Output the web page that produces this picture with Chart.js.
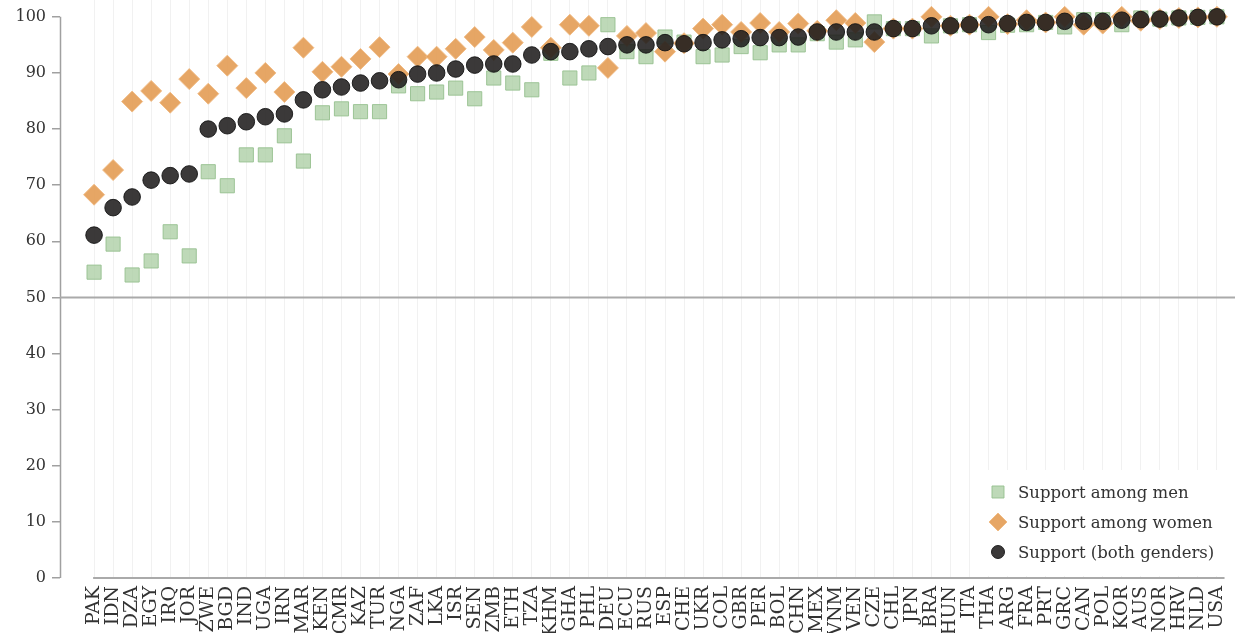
<!DOCTYPE html>
<html>
<head>
<meta charset="utf-8">
<script src="https://cdn.jsdelivr.net/npm/chart.js@4/dist/chart.umd.min.js"></script>
<style>
  html, body { margin: 0; padding: 0; background: #fff; overflow: hidden; }
  #wrap { width: 1235px; height: 633px; position: relative; }
</style>
</head>
<body>
<div id="wrap"><canvas id="chart"></canvas></div>
<script>
// Country codes, ordered by overall support
const countries = ['PAK','IDN','DZA','EGY','IRQ','JOR','ZWE','BGD','IND','UGA',
  'IRN','MAR','KEN','CMR','KAZ','TUR','NGA','ZAF','LKA','ISR',
  'SEN','ZMB','ETH','TZA','KHM','GHA','PHL','DEU','ECU','RUS',
  'ESP','CHE','UKR','COL','GBR','PER','BOL','CHN','MEX','VNM',
  'VEN','CZE','CHL','JPN','BRA','HUN','ITA','THA','ARG','FRA',
  'PRT','GRC','CAN','POL','KOR','AUS','NOR','HRV','NLD','USA'];

// Support (%) among men
const supportMen = [54.5, 59.5, 54.0, 56.5, 61.7, 57.4, 72.4, 69.9, 75.4, 75.4,
  78.8, 74.3, 82.9, 83.6, 83.1, 83.1, 87.7, 86.3, 86.6, 87.3,
  85.4, 89.1, 88.2, 87.0, 93.5, 89.1, 90.0, 98.6, 93.8, 92.9,
  96.4, 95.5, 92.9, 93.2, 94.7, 93.6, 95.0, 95.0, 97.0, 95.5,
  95.9, 99.1, 97.9, 97.9, 96.6, 98.4, 98.6, 97.2, 98.5, 98.6,
  99.0, 98.2, 99.5, 99.5, 98.6, 99.8, 99.6, 99.8, 99.9, 100];

// Support (%) among women
const supportWomen = [68.3, 72.7, 84.9, 86.8, 84.7, 88.9, 86.3, 91.3, 87.3, 90.0,
  86.6, 94.5, 90.2, 91.1, 92.5, 94.6, 89.8, 92.9, 92.9, 94.3,
  96.4, 94.1, 95.4, 98.2, 94.5, 98.6, 98.4, 90.9, 96.6, 97.1,
  93.8, 95.3, 97.9, 98.6, 97.3, 98.9, 97.3, 98.8, 97.5, 99.4,
  98.9, 95.5, 97.9, 97.9, 100, 98.4, 98.6, 100, 98.7, 99.4,
  99.0, 100, 98.6, 98.8, 100, 99.3, 99.6, 99.8, 99.9, 100];

// Support (%) for both genders
const supportBoth = [61.1, 66.0, 67.9, 70.9, 71.7, 72.0, 80.0, 80.6, 81.3, 82.2,
  82.7, 85.2, 87.0, 87.5, 88.2, 88.6, 88.8, 89.8, 90.0, 90.7,
  91.4, 91.6, 91.6, 93.2, 93.8, 93.8, 94.3, 94.7, 95.0, 95.0,
  95.4, 95.2, 95.4, 95.9, 96.1, 96.3, 96.3, 96.4, 97.3, 97.3,
  97.3, 97.3, 97.9, 97.9, 98.4, 98.4, 98.6, 98.6, 98.8, 99.0,
  99.0, 99.2, 99.2, 99.2, 99.4, 99.5, 99.6, 99.8, 99.9, 100];

const yTicks = [0, 10, 20, 30, 40, 50, 60, 70, 80, 90, 100];

const toPoints = arr => arr.map((v, i) => ({ x: i, y: v }));

const SERIF = '"DejaVu Serif", "Liberation Serif", serif';
const TEXT = '#333';

const styles = {
  men:   { pointStyle: 'rect',    radius: 10, bg: 'rgba(172,206,164,0.78)', border: 'rgba(150,192,142,0.9)' },
  women: { pointStyle: 'rectRot', radius: 10.5, bg: 'rgba(228,158,88,0.92)', border: 'rgba(240,185,130,0.9)' },
  both:  { pointStyle: 'circle',  radius: 8.3, bg: 'rgba(32,30,30,0.88)', border: 'rgba(20,20,20,0.9)' }
};

// Axis spines, the 50% reference line and the legend
const decor = {
  id: 'decor',
  beforeDatasetsDraw(chart) {
    const { ctx, chartArea: a, scales: { x, y } } = chart;
    ctx.save();
    ctx.strokeStyle = '#a0a0a0';
    ctx.lineWidth = 1.5;
    ctx.beginPath();
    ctx.moveTo(a.left + 0.5, y.getPixelForValue(0));
    ctx.lineTo(a.left + 0.5, y.getPixelForValue(100));
    ctx.stroke();

    ctx.strokeStyle = '#aaaaaa';
    ctx.lineWidth = 2;
    const y50 = y.getPixelForValue(50);
    ctx.beginPath();
    ctx.moveTo(a.left, y50);
    ctx.lineTo(a.right, y50);
    ctx.stroke();

    ctx.beginPath();
    ctx.moveTo(x.getPixelForValue(-0.05), a.bottom);
    ctx.lineTo(x.getPixelForValue(59.4), a.bottom);
    ctx.stroke();
    ctx.restore();
  },
  afterDraw(chart) {
    const { ctx, chartArea: a } = chart;
    ctx.save();
    const boxL = a.right - 253, boxT = a.bottom - 108;
    ctx.fillStyle = '#fff';
    ctx.fillRect(boxL, boxT, a.right - boxL, a.bottom - boxT - 2);
    const items = [
      { label: 'Support among men', s: styles.men, r: 8.5 },
      { label: 'Support among women', s: styles.women, r: 9 },
      { label: 'Support (both genders)', s: styles.both, r: 6.5 }
    ];
    const mx = boxL + 16;
    items.forEach((it, k) => {
      const cy = boxT + 22 + k * 30;
      ctx.fillStyle = it.s.bg;
      ctx.strokeStyle = it.s.border;
      ctx.lineWidth = 1;
      ctx.beginPath();
      if (it.s.pointStyle === 'circle') {
        ctx.arc(mx, cy, it.r, 0, Math.PI * 2);
      } else if (it.s.pointStyle === 'rect') {
        const h = it.r * Math.SQRT1_2;
        ctx.rect(mx - h, cy - h, 2 * h, 2 * h);
      } else {
        ctx.moveTo(mx, cy - it.r);
        ctx.lineTo(mx + it.r, cy);
        ctx.lineTo(mx, cy + it.r);
        ctx.lineTo(mx - it.r, cy);
        ctx.closePath();
      }
      ctx.fill();
      ctx.stroke();
      ctx.fillStyle = TEXT;
      ctx.font = '16.5px ' + SERIF;
      ctx.textAlign = 'left';
      ctx.textBaseline = 'middle';
      ctx.fillText(it.label, mx + 20, cy + 2);
    });
    ctx.restore();
  }
};

const mk = (label, arr, s, order) => ({
  label,
  data: toPoints(arr),
  pointStyle: s.pointStyle,
  pointRadius: s.radius,
  pointHoverRadius: s.radius,
  pointBackgroundColor: s.bg,
  pointBorderColor: s.border,
  pointBorderWidth: 1,
  backgroundColor: s.bg,
  borderColor: s.border,
  showLine: false,
  clip: false,
  order
});

new Chart(document.getElementById('chart'), {
  type: 'scatter',
  data: {
    datasets: [
      mk('Support among men', supportMen, styles.men, 3),
      mk('Support among women', supportWomen, styles.women, 2),
      mk('Support (both genders)', supportBoth, styles.both, 1)
    ]
  },
  options: {
    responsive: true,
    maintainAspectRatio: false,
    animation: false,
    layout: { padding: 0, autoPadding: false },
    plugins: { legend: { display: false }, tooltip: { enabled: false } },
    events: [],
    scales: {
      x: {
        type: 'linear',
        min: -1.79,
        max: 59.95,
        grid: { color: 'rgba(0,0,0,0.055)', lineWidth: 1, drawTicks: false },
        border: { display: false },
        ticks: {
          stepSize: 1,
          autoSkip: false,
          includeBounds: false,
          maxRotation: 90,
          minRotation: 90,
          padding: 8,
          color: TEXT,
          font: { family: SERIF, size: 19 },
          callback: v => countries[v] ?? ''
        },
        afterBuildTicks: s => { s.ticks = s.ticks.filter(t => Number.isInteger(t.value) && t.value >= 0 && t.value < countries.length); },
        afterFit: s => { s.height = 55; s.paddingLeft = 0; s.paddingRight = 0; }
      },
      y: {
        min: 0,
        max: 103,
        grid: { drawOnChartArea: false, drawTicks: true, tickLength: 8, color: '#a0a0a0', lineWidth: 1.5 },
        border: { display: false },
        ticks: {
          stepSize: 10,
          includeBounds: false,
          padding: 6,
          color: TEXT,
          font: { family: SERIF, size: 16 }
        },
        afterBuildTicks: s => { s.ticks = yTicks.map(v => ({ value: v })); },
        afterFit: s => { s.width = 60; s.paddingTop = 0; s.paddingBottom = 0; }
      }
    }
  },
  plugins: [decor]
});
</script>
</body>
</html>
